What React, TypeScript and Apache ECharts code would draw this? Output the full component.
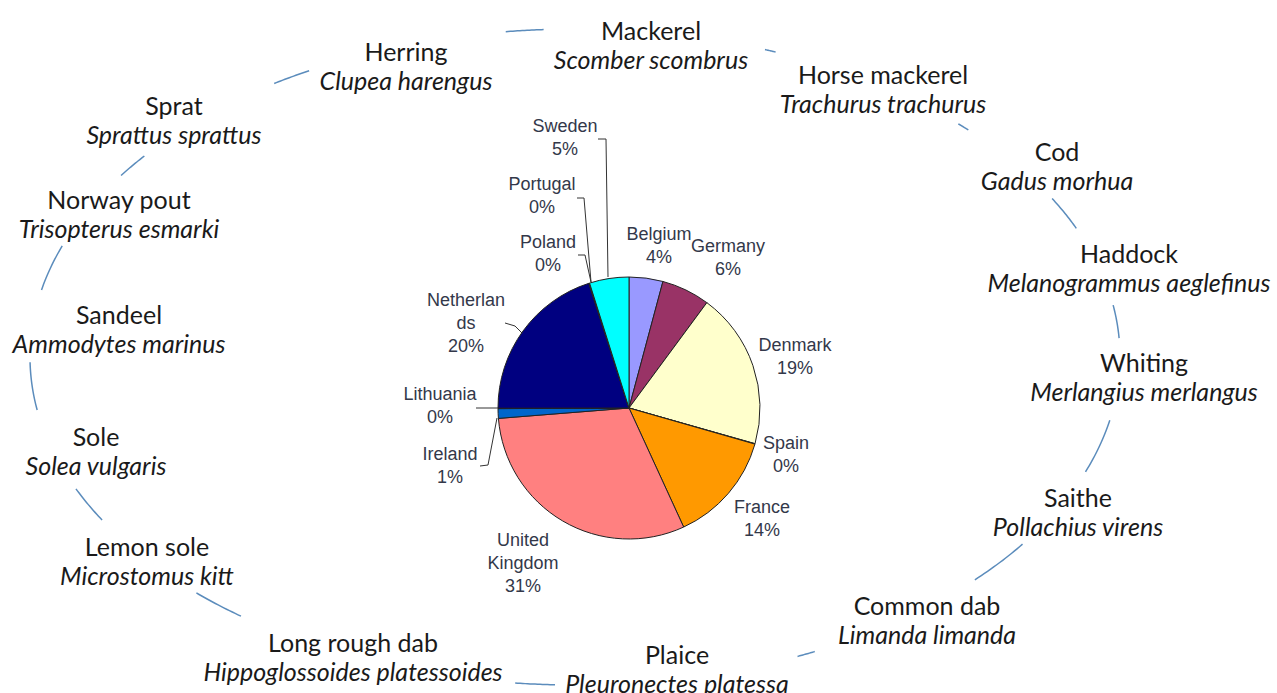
import React, { useEffect, useRef } from "react";
import * as echarts from "echarts";

// Pie data (clockwise from 12 o'clock)
const countries = ["Belgium", "Germany", "Denmark", "Spain", "France", "United Kingdom", "Ireland", "Lithuania", "Netherlands", "Poland", "Portugal", "Sweden"];
const shares = [4.2, 6.0, 19.4, 0.05, 13.8, 30.8, 1.2, 0.05, 20.2, 0.05, 0.05, 4.9];
const sliceColors = ["#9999ff", "#993366", "#ffffcc", "#ccffff", "#ff9900", "#ff8080", "#0066cc", "#ccccff", "#000080", "#ff00ff", "#ffff00", "#00ffff"];

// Fish species around the ring
const fishCommon = ["Mackerel", "Horse mackerel", "Cod", "Haddock", "Whiting", "Saithe", "Common dab", "Plaice", "Long rough dab", "Lemon sole", "Sole", "Sandeel", "Norway pout", "Sprat", "Herring"];
const fishLatin = ["Scomber scombrus", "Trachurus trachurus", "Gadus morhua", "Melanogrammus aeglefinus", "Merlangius merlangus", "Pollachius virens", "Limanda limanda", "Pleuronectes platessa", "Hippoglossoides platessoides", "Microstomus kitt", "Solea vulgaris", "Ammodytes marinus", "Trisopterus esmarki", "Sprattus sprattus", "Clupea harengus"];

// Layout (not data)
const fishPos = [[651, 30], [883, 74], [1057, 151], [1129, 253], [1144, 362], [1078, 497], [927, 605], [677, 654], [353, 642], [147, 546], [96, 436], [119, 314], [119, 199], [174, 105], [406, 51]];
const ringSegs = [[-97.3, -93.3], [-69.6, -68.4], [-45.3, -43.8], [-28.9, -23.1], [-9.1, -3.3], [11.1, 20.5], [34.8, 42.8], [63.9, 65.9], [92.1, 96.3], [127.8, 134], [150.2, 156.3], [170.7, 179.1], [191.8, 199.8], [213.6, 217.8], [236.5, 240.8]];
const ring = { cx: 575, cy: 357, a: 545, b: 328 };

const labelPos: number[][] = [[659, 245], [728, 257], [795, 356], [786, 454], [762, 518], [523, 563], [450, 465], [440, 405], [466, 323], [548, 253], [542, 195], [565, 137]];
const leaders: (number[][] | null)[] = [null, null, null, null, null, null,
  [[480, 466], [488, 465], [497, 418]],
  [[476, 408], [498, 408]],
  [[505, 323], [515, 326], [522, 333]],
  [[578, 255], [585, 255], [591, 282]],
  [[577, 198], [584, 198], [591, 282]],
  [[598, 139], [606, 139], [608, 277]]];

export default function App() {
  const ref = useRef<HTMLDivElement>(null);
  useEffect(() => {
    document.body.style.margin = "0";
    const chart = echarts.init(ref.current!, null, { renderer: "svg" });
    const graphics: any[] = [];
    ringSegs.forEach(([s, e]) => {
      const pts: number[][] = [];
      const n = 16;
      for (let k = 0; k <= n; k++) {
        const t = ((s + (e - s) * k / n) * Math.PI) / 180;
        pts.push([ring.cx + ring.a * Math.cos(t), ring.cy + ring.b * Math.sin(t)]);
      }
      graphics.push({ type: "polyline", shape: { points: pts }, style: { stroke: "#5b8cbc", lineWidth: 1.5, fill: null } });
    });
    fishCommon.forEach((nm, i) => {
      const [x, y] = fishPos[i];
      graphics.push({ type: "text", x, y, style: { text: nm, align: "center", verticalAlign: "middle", font: "25px Lato", fill: "#1a1a1a" } });
      graphics.push({ type: "text", x, y: y + 29, style: { text: fishLatin[i], align: "center", verticalAlign: "middle", font: "italic 25px Lato", fill: "#1a1a1a" } });
    });
    chart.setOption({
      animation: false,
      graphic: graphics,
      series: [{
        type: "pie",
        center: [629, 408],
        radius: 131,
        startAngle: 90,
        clockwise: true,
        avoidLabelOverlap: false,
        itemStyle: { borderColor: "#222", borderWidth: 1 },
        label: {
          show: true,
          position: "outside",
          fontFamily: "Liberation Sans",
          fontSize: 18,
          lineHeight: 23,
          color: "#33384a",
          formatter: (p: any) => {
            const nm = p.name === "Netherlands" ? "Netherlan\nds" : p.name.replace(" ", "\n");
            return `${nm}\n${Math.round(p.percent)}%`;
          },
        },
        labelLine: { show: true, smooth: false, lineStyle: { color: "#333", width: 1 } },
        labelLayout: (params: any) => {
          const i = params.dataIndex;
          const res: any = { x: labelPos[i][0], y: labelPos[i][1], align: "center", verticalAlign: "middle" };
          if (leaders[i]) res.labelLinePoints = leaders[i];
          return res;
        },
        data: countries.map((c, i) => ({
          name: c,
          value: shares[i],
          itemStyle: { color: sliceColors[i] },
          labelLine: { show: !!leaders[i] },
        })),
      }],
    });
    return () => chart.dispose();
  }, []);
  return <div ref={ref} style={{ width: 1277, height: 693 }} />;
}
